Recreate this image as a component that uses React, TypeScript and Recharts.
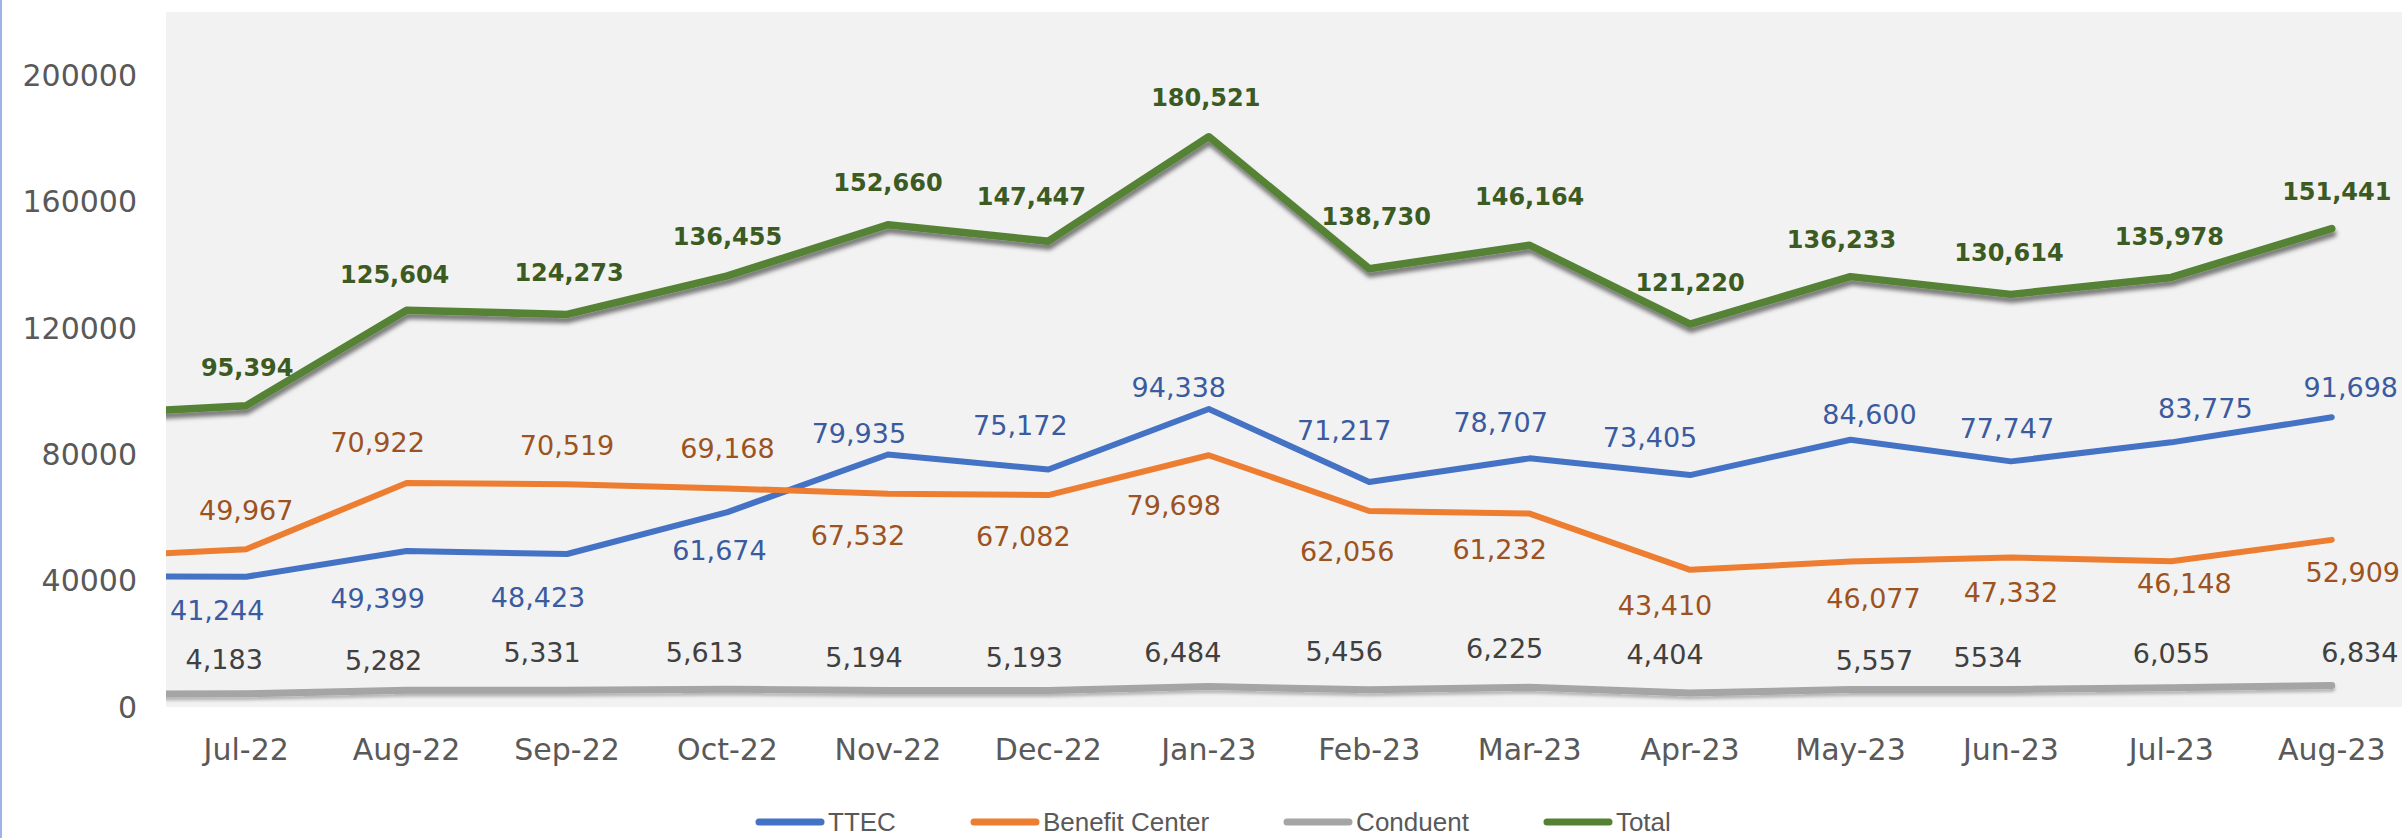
import React from 'react';
import { LineChart, Line, XAxis, YAxis, Legend, LabelList, CartesianGrid } from 'recharts';

// First month (Jun-22) lies just outside the visible axis range; only its line segment shows at the left edge.
const months = ['Jun-22', 'Jul-22', 'Aug-22', 'Sep-22', 'Oct-22', 'Nov-22', 'Dec-22', 'Jan-23', 'Feb-23', 'Mar-23', 'Apr-23', 'May-23', 'Jun-23', 'Jul-23', 'Aug-23'];
const ttec = [41300, 41244, 49399, 48423, 61674, 79935, 75172, 94338, 71217, 78707, 73405, 84600, 77747, 83775, 91698];
const benefitCenter = [47300, 49967, 70922, 70519, 69168, 67532, 67082, 79698, 62056, 61232, 43410, 46077, 47332, 46148, 52909];
const conduent = [4000, 4183, 5282, 5331, 5613, 5194, 5193, 6484, 5456, 6225, 4404, 5557, 5534, 6055, 6834];
const total = [92600, 95394, 125604, 124273, 136455, 152660, 147447, 180521, 138730, 146164, 121220, 136233, 130614, 135978, 151441];
const yTicks = [0, 40000, 80000, 120000, 160000, 200000];
const seriesNames = ['TTEC', 'Benefit Center', 'Conduent', 'Total'];
// Conduent label shown without thousands separator in the source
const conduentPlainLabels = ['Jun-23'];

// label placement (offset from point, px) for visible months Jul-22..Aug-23
const ttecLabelShift = [[-29, 34], [-29, 48], [-29, 43], [-8, 38], [-29, -21], [-28, -44], [-30, -21], [-25, -52], [-29, -36], [-40, -38], [19, -25], [-4, -33], [34, -34], [19, -30]];
const bcLabelShift = [[0, -39], [-29, -40], [0, -39], [0, -40], [-30, 42], [-25, 41], [-35, 50], [-22, 41], [-30, 36], [-25, 36], [23, 37], [0, 35], [13, 22], [21, 33]];
const conduentLabelShift = [[-22, -34], [-23, -30], [-25, -38], [-23, -37], [-24, -33], [-24, -33], [-26, -34], [-25, -38], [-25, -39], [-25, -39], [24, -29], [-23, -32], [0, -34], [28, -33]];
const totalLabelShift = [[1, -38], [-12, -35], [2, -41], [0, -39], [0, -42], [-17, -44], [-3, -39], [7, -52], [0, -48], [0, -41], [-9, -37], [-2, -41], [-2, -40], [5, -37]];

const data = months.map((m, i) => ({
  pos: i - 1,
  month: m,
  ttec: ttec[i],
  benefitCenter: benefitCenter[i],
  conduent: conduent[i],
  total: total[i],
}));

const labelTicks = months.slice(1).map((_, i) => i);
const boundaryTicks = months.map((_, i) => i - 0.5);

function makeLabel(shift: number[][], color: string, fontSize: number, fontWeight: number, plain: string[] = []) {
  return (props: any) => {
    const { x, y, value, index } = props;
    if (index === 0 || x == null || y == null) return null;
    const s = shift[index - 1];
    if (!s) return null;
    const text = plain.includes(months[index]) ? String(value) : Number(value).toLocaleString('en-US');
    return (
      <text
        x={x + s[0]}
        y={y + s[1]}
        textAnchor="middle"
        dominantBaseline="central"
        fill={color}
        fontFamily="DejaVu Sans"
        fontSize={fontSize}
        fontWeight={fontWeight}
      >
        {text}
      </text>
    );
  };
}

const renderLegend = (props: any) => {
  const items = [...(props.payload || [])].sort(
    (a: any, b: any) => seriesNames.indexOf(a.value) - seriesNames.indexOf(b.value)
  );
  return (
    <div style={{ display: 'flex', alignItems: 'center', gap: 74, fontFamily: 'Liberation Sans', fontSize: 26, lineHeight: '28px', color: '#595959' }}>
      {items.map((it: any) => (
        <div key={it.value} style={{ display: 'flex', alignItems: 'center' }}>
          <svg width={70} height={12} style={{ display: 'block' }}>
            <line x1={4} y1={6} x2={66} y2={6} stroke={it.color} strokeWidth={7} strokeLinecap="round" />
          </svg>
          <span style={{ marginLeft: 3 }}>{it.value}</span>
        </div>
      ))}
    </div>
  );
};

const axisTick = { fill: '#595959', fontSize: 30, fontFamily: 'DejaVu Sans' };

export default function App() {
  return (
    <div style={{ position: 'absolute', left: 0, top: 0, width: 2402, height: 838, overflow: 'hidden', background: '#ffffff' }}>
      <style>{`
        .total-line .recharts-line-curve { filter: url(#totalShadow); }
        .conduent-line .recharts-line-curve { filter: url(#conduentShadow); }
      `}</style>
      <svg width={0} height={0} style={{ position: 'absolute' }}>
        <defs>
          <filter id="totalShadow" filterUnits="userSpaceOnUse" x={0} y={0} width={2500} height={900}>
            <feDropShadow dx={1} dy={5} stdDeviation={2.2} floodColor="#000000" floodOpacity={0.5} />
          </filter>
          <filter id="conduentShadow" filterUnits="userSpaceOnUse" x={0} y={0} width={2500} height={900}>
            <feDropShadow dx={0} dy={3} stdDeviation={1.5} floodColor="#000000" floodOpacity={0.25} />
          </filter>
        </defs>
      </svg>
      <LineChart width={2412} height={838} data={data} margin={{ top: 12, right: 0, bottom: 0, left: 0 }}>
        <CartesianGrid fill="#F2F2F2" horizontal={false} vertical={false} stroke="none" />
        <XAxis
          xAxisId="marks"
          dataKey="pos"
          type="number"
          domain={[-0.5, 13.5]}
          allowDataOverflow
          ticks={boundaryTicks}
          interval={0}
          tick={false}
          tickSize={12}
          tickLine={{ stroke: '#D9D9D9', strokeWidth: 2 }}
          axisLine={{ stroke: '#D9D9D9', strokeWidth: 2 }}
          height={0}
        />
        <XAxis
          dataKey="pos"
          type="number"
          domain={[-0.5, 13.5]}
          allowDataOverflow
          ticks={labelTicks}
          interval={0}
          tickFormatter={(v: number) => months[v + 1]}
          tickSize={12}
          tickMargin={20}
          tickLine={false}
          axisLine={false}
          height={131}
          tick={axisTick}
        />
        <YAxis
          domain={[0, 220000]}
          allowDataOverflow
          ticks={yTicks}
          interval={0}
          width={166}
          tickSize={0}
          tickMargin={29}
          axisLine={false}
          tickLine={false}
          tick={axisTick}
        />
        <Legend
          verticalAlign="middle"
          align="center"
          layout="horizontal"
          itemSorter={null as any}
          wrapperStyle={{ left: 755, top: 808, width: 1100, height: 28 }}
          content={renderLegend}
        />
        <Line name="TTEC" dataKey="ttec" type="linear" stroke="#4472C4" strokeWidth={6} strokeLinejoin="round" strokeLinecap="round" dot={false} activeDot={false} isAnimationActive={false}>
          <LabelList dataKey="ttec" content={makeLabel(ttecLabelShift, '#3A5BA0', 27, 400)} />
        </Line>
        <Line name="Benefit Center" dataKey="benefitCenter" type="linear" stroke="#ED7D31" strokeWidth={6} strokeLinejoin="round" strokeLinecap="round" dot={false} activeDot={false} isAnimationActive={false}>
          <LabelList dataKey="benefitCenter" content={makeLabel(bcLabelShift, '#9C5221', 27, 400)} />
        </Line>
        <Line name="Conduent" className="conduent-line" dataKey="conduent" type="linear" stroke="#A5A5A5" strokeWidth={7} strokeLinejoin="round" strokeLinecap="round" dot={false} activeDot={false} isAnimationActive={false}>
          <LabelList dataKey="conduent" content={makeLabel(conduentLabelShift, '#404040', 27, 400, conduentPlainLabels)} />
        </Line>
        <Line name="Total" className="total-line" dataKey="total" type="linear" stroke="#548235" strokeWidth={7.5} strokeLinejoin="round" strokeLinecap="round" dot={false} activeDot={false} isAnimationActive={false}>
          <LabelList dataKey="total" content={makeLabel(totalLabelShift, '#3B5B22', 24, 700)} />
        </Line>
      </LineChart>
      <div style={{ position: 'absolute', left: 0, top: 0, width: 2, height: 838, background: '#9DB4E8' }} />
    </div>
  );
}
